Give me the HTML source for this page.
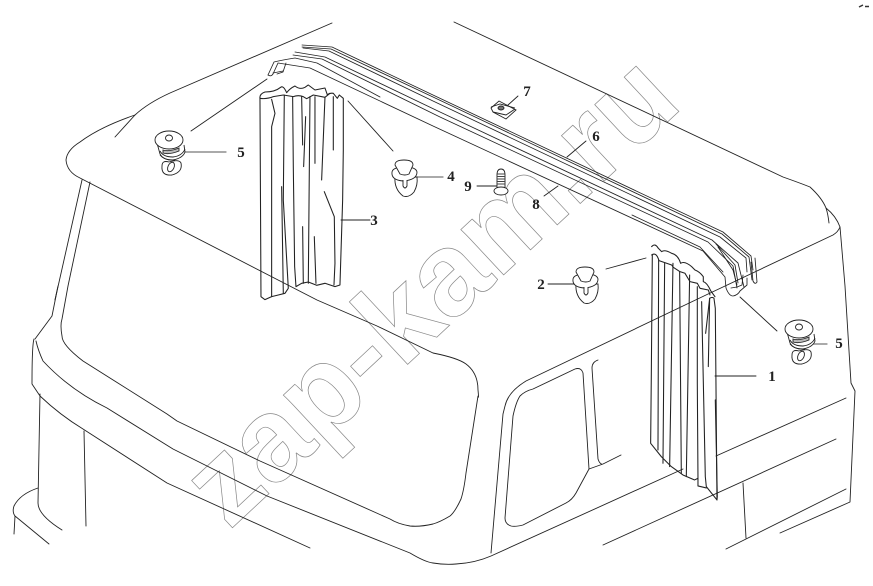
<!DOCTYPE html>
<html><head><meta charset="utf-8"><style>
html,body{margin:0;padding:0;background:#fff;width:873px;height:586px;overflow:hidden}
svg{display:block}
.n{font-family:"Liberation Serif",serif;font-weight:bold;font-size:15px;fill:#222;text-anchor:middle}
</style></head><body>
<svg width="873" height="586" viewBox="0 0 873 586" xmlns="http://www.w3.org/2000/svg">
<rect width="873" height="586" fill="#fff"/>
<text x="229" y="531" transform="rotate(-43 229 531)" font-family="Liberation Sans,sans-serif" font-weight="bold" font-size="118" fill="none" stroke="#888" stroke-width="0.7">zap-kam.ru</text>
<g fill="none" stroke="#222" stroke-width="0.9" stroke-linejoin="round" stroke-linecap="round">
<!-- roof -->
<path d="M332 23L170 93Q148 103 135 115L115 137"/>
<path d="M135 115Q100 127 80 142Q67 150 66 160Q67 172 80 178L317 300L377 326L433 353Q458 358 466 364Q478 373 478 390Q479 400 478 396L466 473Q464 490 461 499Q455 512 450 516Q440 522 433 524Q420 527 410 526Q398 524 390 519L260 461L177 421L167 414L83 361Q62 345 62 336Q60 325 62 319L68 286L90 182"/>
<path d="M55 300L82 180"/>
<path d="M55 300L58 286L52 316L35 339"/>
<path d="M34 339Q32 345 32 384L40 396Q60 415 83 429L167 483L310 548"/>
<path d="M36 341Q38 350 43 361Q70 390 107 408L173 449L267 496L410 553Q425 562 433 563Q445 565 456 564Q475 563 491 556L683 469M716 456L846 398"/>
<path d="M40 394L38 503Q38 515 62 530"/>
<path d="M38 488Q20 494 14 506Q12 512 15 516L49 544M15 516L14 534"/>
<path d="M84 431L86 526"/>
<path d="M454 22L783 177Q800 183 810 187Q822 198 826 208Q828 214 829 223"/>
<path d="M826 208Q836 216 840 227Q838 232 833 235L706 295L526 381Q508 392 505 406L503 414L491 553"/>
<path d="M840 227L845 286L851 383L855 391L850 502L780 533"/>
<path d="M836 439L603 545M846 489L726 549M743 483L746 538"/>
<path d="M533 389L575 369Q581 367 583 373L589 469L576 493Q572 500 566 503L523 525Q515 527 511 526Q505 524 505 518L513 416Q516 402 520 396Q525 391 533 389Z"/>
<path d="M598 360Q592 362 592 368L598 459Q600 465 603 464L621 455M589 469L603 464"/>
<!-- rail -->
<g stroke-width="0.85">
<path d="M302 45L332 47L433 95L723 232L751 256L753 270"/>
<path d="M302 47L331 49L433 97L722 234L749 257L752 280"/>
<path d="M303 48L329 51L433 101L720 237L746 258L747 272"/>
<path d="M755 258L757 282Q755 285 753 281L751 262"/>
<path d="M295 52L325 57L440 112L712 240L738 263L744 287"/>
<path d="M293 55L322 59L440 117L708 242L733 266L737 288"/>
<path d="M268 75L274 62Q282 60 295 58L317 63L380 97"/>
<path d="M268 75Q271 77 273 74L278 63L310 68L433 126L703 251L725 277L726 288Q729 296 733 296Q738 295 740 291L747 285V278"/>
<path d="M277 74L283 72L286 63M273 73L283 71"/>
<path d="M632 215L700 247L723 272M716 244L735 265L738 283M718 247L733 270L737 285"/>
<path d="M731 288L737 287L742 285L743 275"/>
</g>
<!-- leaders -->
<path d="M267 79L191 131M348 101L393 151M740 297L777 331"/>
<path d="M606 269L646 258"/>
<path d="M183 152H226" stroke="#777" stroke-width="1.2"/>
<path d="M341 220H370"/>
<path d="M417 177H443" stroke="#777" stroke-width="1.2"/>
<path d="M477 186H497"/>
<path d="M508 105L518 96"/>
<path d="M567 157L586 141"/>
<path d="M544 196L558 186"/>
<path d="M548 284H574"/>
<path d="M715 376H756"/>
<path d="M810 344H827" stroke="#777" stroke-width="1.2"/>
<!-- left curtain -->
<g transform="scale(.3333)" stroke-width="3.2">
<path d="M780 295Q778 282 795 276Q825 276 842 262Q850 255 860 278Q870 265 885 258Q900 270 915 262L925 255L945 270L975 264L982 284Q990 278 1000 280L1012 295L1018 285L1030 295L1030 450L1028 600L1020 855L1005 860L975 850L950 856L925 846L905 850L888 860L884 800L880 500L878 290"/>
<path d="M780 295Q800 298 820 290L850 285L880 290Q895 284 910 290L920 296L940 285L975 292L990 280"/>
<path d="M780 295L783 890L795 899L815 890L835 885L855 880L865 865L850 600L853 285"/>
<path d="M815 298L825 340L815 380L815 890M845 560L850 880"/>
<path d="M905 290L908 435M917 350L911 500M908 680L910 850M930 290L925 850M945 290L945 490M975 292L965 540M1000 290L1000 450M973 575L1003 650L1005 790L1002 855M943 710L948 850"/>
</g>
<!-- right curtain -->
<g transform="translate(433,0) scale(.3333)" stroke-width="3.2">
<path d="M656 740Q666 728 676 745L686 755Q695 748 716 760Q735 764 743 790Q755 782 776 800L786 810Q800 815 811 830L811 845Q822 848 833 872L846 890"/>
<path d="M656 765Q670 755 678 782L716 795L721 802L741 815L756 820L771 845L793 850L801 865L826 870L831 885"/>
<path d="M658 765L655 1125L653 1330L685 1370L715 1400L750 1425L785 1440L795 1435"/>
<path d="M677 780L675 1350M695 790L690 1390M720 790L710 1400M740 815L745 1420M770 825L760 1430M793 860V1150L795 1435V1440"/>
<path d="M806 905L817 1430L820 1460L852 1500L847 925L843 895Q838 890 830 895L818 1000"/>
<path d="M795 1435L795 1458L820 1464M847 1200L853 1490L852 1500M830 895L826 1100"/>
</g>
</g>
<!-- clips -->
<g fill="#fff" stroke="#222" stroke-width="0.9">
<g transform="translate(155,130)">
<path d="M2 13L5 24Q8 30 18 30Q28 28 30 22L29 15" fill="#fff"/>
<path d="M5 21Q8 27 18 27Q27 26 30 19M5 25Q10 31 20 30" fill="none"/>
<path d="M8 20Q14 22 24 18V21Q14 25 8 23Z" fill="#bbb"/>
<ellipse cx="14" cy="10" rx="14" ry="9"/>
<ellipse cx="14" cy="8" rx="3.500" ry="3"/>
<path d="M7 36Q7 30 14 32Q24 29 26 33Q28 42 17 45Q6 46 7 36Z" fill="none"/>
<ellipse cx="16" cy="37" rx="3" ry="5" transform="rotate(25 16 37)" fill="none"/>
</g>
<g transform="translate(785,319)">
<path d="M2 13L5 24Q8 30 18 30Q28 28 30 22L29 15" fill="#fff"/>
<path d="M5 21Q8 27 18 27Q27 26 30 19M5 25Q10 31 20 30" fill="none"/>
<path d="M8 20Q14 22 24 18V21Q14 25 8 23Z" fill="#bbb"/>
<ellipse cx="14" cy="10" rx="14" ry="9"/>
<ellipse cx="14" cy="8" rx="3.500" ry="3"/>
<path d="M7 36Q7 30 14 32Q24 29 26 33Q28 42 17 45Q6 46 7 36Z" fill="none"/>
<ellipse cx="16" cy="37" rx="3" ry="5" transform="rotate(25 16 37)" fill="none"/>
</g>
<g transform="translate(391,159)">
<path d="M4 18Q3 30 12 37Q18 39 23 33Q27 26 26 18Z"/>
<path d="M1 13Q0 21 12 22Q26 21 26 13Q25 8 14 8Q2 8 1 13Z"/>
<path d="M4 6Q4 1 13 1Q22 1 22 6L18 15Q14 17 9 15Z"/>
<path d="M12 21V27Q14 31 16 27V21"/>
</g>
<g transform="translate(572,266)">
<path d="M4 18Q3 30 12 37Q18 39 23 33Q27 26 26 18Z"/>
<path d="M1 13Q0 21 12 22Q26 21 26 13Q25 8 14 8Q2 8 1 13Z"/>
<path d="M4 6Q4 1 13 1Q22 1 22 6L18 15Q14 17 9 15Z"/>
<path d="M12 21V27Q14 31 16 27V21"/>
</g>
<!-- bolt -->
<path d="M497 175Q497 169 501 169Q505 169 505 175V189H497Z"/>
<path d="M497 174H505M497 176.500H505M497 179H505M497 181.500H505M497 184H505" fill="none" stroke="#444" stroke-width="1"/>
<ellipse cx="501" cy="191" rx="7" ry="4"/>
<!-- nut 7 -->
<path d="M491 108L499 101L516 110L506 119L493 112Z" fill="#fff"/>
<path d="M491 107L500 104L515 108M493 112L506 115L515 109" fill="none"/>
<ellipse cx="501" cy="108" rx="3" ry="2" fill="#777"/>
</g>
<text class="n" x="241" y="157">5</text>
<text class="n" x="374" y="225">3</text>
<text class="n" x="451" y="181">4</text>
<text class="n" x="527" y="96">7</text>
<text class="n" x="596" y="141">6</text>
<text class="n" x="468" y="191">9</text>
<text class="n" x="536" y="209">8</text>
<text class="n" x="541" y="289">2</text>
<text class="n" x="772" y="381">1</text>
<text class="n" x="839" y="348">5</text>
<path d="M859 7L863 5M865 6.500H869" stroke="#333" stroke-width="1.500" fill="none"/>
</svg>
</body></html>
